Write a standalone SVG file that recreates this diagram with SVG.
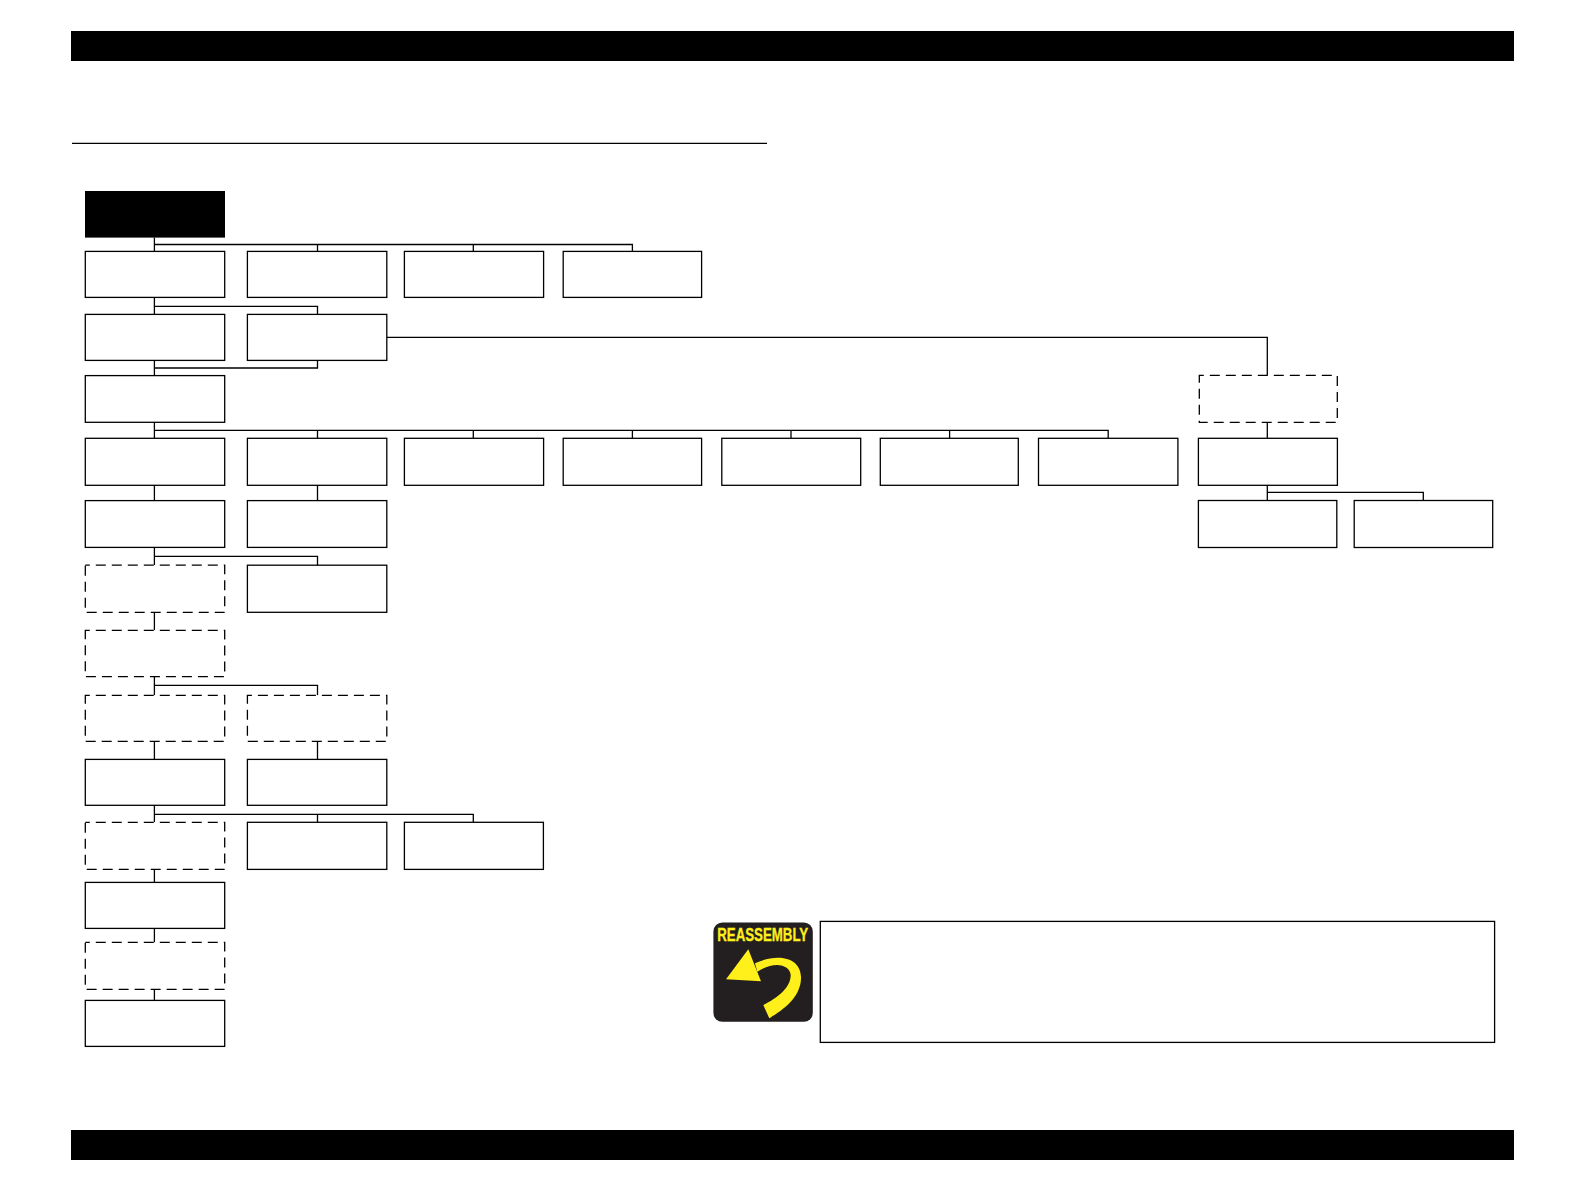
<svg xmlns="http://www.w3.org/2000/svg" width="1584" height="1190" viewBox="0 0 1584 1190">
<style>
.n{fill:#fff;stroke:#000;stroke-width:1.3}
.d{fill:#fff;stroke:#000;stroke-width:1.3;stroke-dasharray:10 6;stroke-dashoffset:5.5}
.c{fill:none;stroke:#000;stroke-width:1.3}
.y{fill:#ffef1a}
</style>
<rect width="1584" height="1190" fill="#fff"/>
<g id="page-furniture">
<rect x="71" y="31" width="1443" height="30" fill="#000"/>
<rect x="71" y="1130" width="1443" height="30" fill="#000"/>
<line x1="72" y1="143.4" x2="767" y2="143.4" stroke="#000" stroke-width="1.3"/>
</g>
<g id="connectors">
<path class="c" d="M154.4 237.5V251.4M154.4 244.5H632.4V251.4M317.5 244.5V251.4M473.3 244.5V251.4"/>
<path class="c" d="M154.4 297.3V314.4M154.4 306.3H317.5V314.4"/>
<path class="c" d="M154.4 360.4V375.6M154.4 368H317.5V360.4"/>
<path class="c" d="M386.8 337.3H1267.3V375.4"/>
<path class="c" d="M154.4 422.3V438.3M154.4 430.3H1108.2V438.3M317.5 430.3V438.3M473.3 430.3V438.3M632.4 430.3V438.3M791 430.3V438.3M949.6 430.3V438.3"/>
<path class="c" d="M154.4 485.3V500.6M317.5 485.3V500.6"/>
<path class="c" d="M154.4 547.4V565.2M154.4 556.4H317.5V565.2"/>
<path class="c" d="M154.4 612.3V630.3"/>
<path class="c" d="M154.4 676.6V695.3M154.4 685.4H317.5V695.3"/>
<path class="c" d="M154.4 741.4V759.4M317.5 741.4V759.4"/>
<path class="c" d="M154.4 805.3V822.3M154.4 814.3H473.3V822.3M317.5 814.3V822.3"/>
<path class="c" d="M154.4 869.4V882.4"/>
<path class="c" d="M154.4 928.4V942.4"/>
<path class="c" d="M154.4 989.4V1000.4"/>
<path class="c" d="M1267.3 422.3V438.3"/>
<path class="c" d="M1267.3 485.3V500.5M1267.3 492.4H1423.3V500.5"/>
</g>
<g id="n-start"><rect x="85" y="191" width="140" height="46.6" fill="#000"/></g>
<g id="n-r1a"><rect class="n" x="85.3" y="251.4" width="139.4" height="46"/></g>
<g id="n-r1b"><rect class="n" x="247.4" y="251.4" width="139.4" height="46"/></g>
<g id="n-r1c"><rect class="n" x="404.4" y="251.4" width="139.2" height="46"/></g>
<g id="n-r1d"><rect class="n" x="563.2" y="251.4" width="138.4" height="46"/></g>
<g id="n-r2a"><rect class="n" x="85.3" y="314.4" width="139.4" height="46"/></g>
<g id="n-r2b"><rect class="n" x="247.4" y="314.4" width="139.4" height="46"/></g>
<g id="n-r3a"><rect class="n" x="85.3" y="375.6" width="139.4" height="46.7"/></g>
<g id="n-r4a"><rect class="n" x="85.3" y="438.3" width="139.4" height="47"/></g>
<g id="n-r4b"><rect class="n" x="247.4" y="438.3" width="139.4" height="47"/></g>
<g id="n-r4c"><rect class="n" x="404.4" y="438.3" width="139.2" height="47"/></g>
<g id="n-r4d"><rect class="n" x="563.2" y="438.3" width="138.4" height="47"/></g>
<g id="n-r4e"><rect class="n" x="721.8" y="438.3" width="138.9" height="47"/></g>
<g id="n-r4f"><rect class="n" x="880.3" y="438.3" width="138" height="47"/></g>
<g id="n-r4g"><rect class="n" x="1038.5" y="438.3" width="139.4" height="47"/></g>
<g id="n-r3h"><rect class="d" x="1199.3" y="375.4" width="138" height="46.9"/></g>
<g id="n-r4h"><rect class="n" x="1198.4" y="438.3" width="139" height="47"/></g>
<g id="n-r5h"><rect class="n" x="1198.4" y="500.5" width="138.4" height="47"/></g>
<g id="n-r5i"><rect class="n" x="1354.2" y="500.5" width="138.5" height="47"/></g>
<g id="n-r5a"><rect class="n" x="85.3" y="500.6" width="139.4" height="46.8"/></g>
<g id="n-r5b"><rect class="n" x="247.4" y="500.6" width="139.4" height="46.8"/></g>
<g id="n-r6a"><rect class="d" x="85.3" y="565.2" width="139.4" height="47.1"/></g>
<g id="n-r6b"><rect class="n" x="247.4" y="565.2" width="139.4" height="47.1"/></g>
<g id="n-r7a"><rect class="d" x="85.3" y="630.3" width="139.4" height="46.3"/></g>
<g id="n-r8a"><rect class="d" x="85.3" y="695.3" width="139.4" height="46.1"/></g>
<g id="n-r8b"><rect class="d" x="247.4" y="695.3" width="139.4" height="46.1"/></g>
<g id="n-r9a"><rect class="n" x="85.3" y="759.4" width="139.4" height="45.9"/></g>
<g id="n-r9b"><rect class="n" x="247.4" y="759.4" width="139.4" height="45.9"/></g>
<g id="n-r10a"><rect class="d" x="85.3" y="822.3" width="139.4" height="47.1"/></g>
<g id="n-r10b"><rect class="n" x="247.4" y="822.3" width="139.4" height="47.1"/></g>
<g id="n-r10c"><rect class="n" x="404.4" y="822.3" width="139" height="47.1"/></g>
<g id="n-r11a"><rect class="n" x="85.3" y="882.4" width="139.4" height="46"/></g>
<g id="n-r12a"><rect class="d" x="85.3" y="942.4" width="139.4" height="47"/></g>
<g id="n-r13a"><rect class="n" x="85.3" y="1000.4" width="139.4" height="46"/></g>
<g id="reassembly-icon">
<rect x="713.4" y="922.4" width="99.4" height="99.4" rx="9" fill="#231f20"/>
<text class="y" x="717.2" y="941" font-family="'Liberation Sans',Arial,sans-serif" font-size="17.5" font-weight="700" stroke="#ffef1a" stroke-width=".3" textLength="91" lengthAdjust="spacingAndGlyphs">REASSEMBLY</text>
<path class="y" d="M748.3 949.3L726 979.3L761 981.3Z"/>
<path class="y" d="M755 963.3C776.7 953.3 800 956.7 801 976.7C801.7 996.7 783.3 1010 769.3 1018.3L763.3 1005C776.7 998.3 790.7 988.3 790.7 975C790 965 775 960 757.3 971.7Z"/>
</g>
<g id="note"><rect class="n" x="820.3" y="921.4" width="674.3" height="121"/></g>
</svg>
